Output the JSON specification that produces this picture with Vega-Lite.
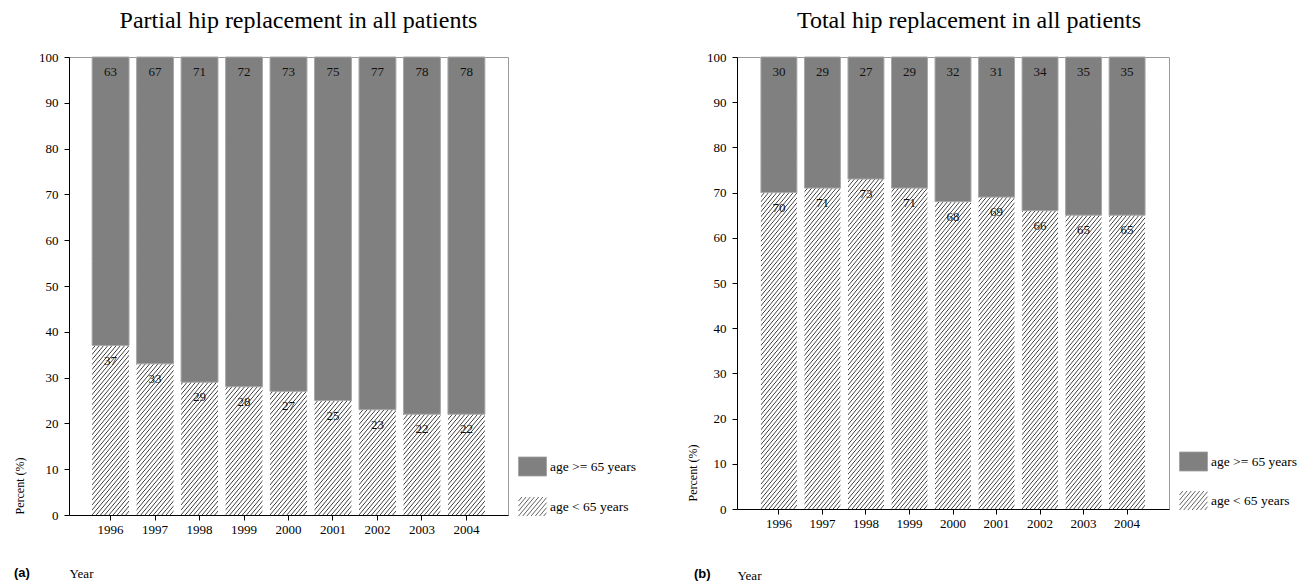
{
"$schema": "https://vega.github.io/schema/vega-lite/v6.json",
"background": "white",
"padding": {"left": 12, "top": 8, "right": 0, "bottom": 0},
"spacing": 47,
"resolve": {"scale": {"x": "independent", "y": "independent", "fill": "independent", "shape": "independent", "stroke": "independent"}, "legend": {"fill": "independent", "shape": "independent", "stroke": "independent"}},
"hconcat": [
{
"width": 439, "height": 458,
"title": {"text": "Partial hip replacement in all patients", "dx": 10},
"data": {"values": [
{"year": "1996", "group": "age >= 65 years", "value": 63}, {"year": "1996", "group": "age < 65 years", "value": 37},
{"year": "1997", "group": "age >= 65 years", "value": 67}, {"year": "1997", "group": "age < 65 years", "value": 33},
{"year": "1998", "group": "age >= 65 years", "value": 71}, {"year": "1998", "group": "age < 65 years", "value": 29},
{"year": "1999", "group": "age >= 65 years", "value": 72}, {"year": "1999", "group": "age < 65 years", "value": 28},
{"year": "2000", "group": "age >= 65 years", "value": 73}, {"year": "2000", "group": "age < 65 years", "value": 27},
{"year": "2001", "group": "age >= 65 years", "value": 75}, {"year": "2001", "group": "age < 65 years", "value": 25},
{"year": "2002", "group": "age >= 65 years", "value": 77}, {"year": "2002", "group": "age < 65 years", "value": 23},
{"year": "2003", "group": "age >= 65 years", "value": 78}, {"year": "2003", "group": "age < 65 years", "value": 22},
{"year": "2004", "group": "age >= 65 years", "value": 78}, {"year": "2004", "group": "age < 65 years", "value": 22}
]},
"encoding": {"x": {"field": "year", "type": "ordinal", "scale": {"paddingInner": 0.17, "paddingOuter": 0.52}, "axis": {"title": "Year", "labelAngle": 0, "labelPadding": 3, "titleX": 0, "titleY": 58, "titleAlign": "left", "titleBaseline": "middle", "titleAnchor": null}}},
"layer": [
{"transform": [{"filter": "datum.group === 'age < 65 years'"}], "mark": {"type": "bar"},
 "encoding": {"y": {"datum": 0, "type": "quantitative", "scale": {"domain": [0, 100], "nice": false}, "axis": {"title": "Percent (%)", "values": [0,10,20,30,40,50,60,70,80,90,100], "labelPadding": 6, "titleAngle": -90, "titleX": -50, "titleY": 457, "titleAlign": "left", "titleBaseline": "middle", "titleFontSize": 12, "titleAnchor": null}}, "y2": {"datum": 100}}},
{"mark": {"type": "bar", "fill": "#808080", "stroke": "#a8a8a8", "strokeWidth": 1},
 "encoding": {"y": {"field": "value", "type": "quantitative", "stack": "zero"},
  "detail": {"field": "group"},
  "order": {"field": "group", "sort": "ascending"},
  "opacity": {"condition": {"test": "datum.group === 'age < 65 years'", "value": 0}, "value": 1}}},
{"transform": [{"filter": "datum.group === 'age >= 65 years'"}], "mark": {"type": "text", "baseline": "middle", "dy": 15, "fontSize": 13, "color": "#111"},
 "encoding": {"y": {"datum": 100, "type": "quantitative"}, "text": {"field": "value"}}},
{"transform": [{"filter": "datum.group === 'age < 65 years'"}], "mark": {"type": "text", "baseline": "middle", "dy": 15, "fontSize": 13, "color": "#111"},
 "encoding": {"y": {"field": "value", "type": "quantitative", "stack": null}, "text": {"field": "value"}}},
{"transform": [{"filter": "false"}], "mark": {"type": "point", "filled": true, "opacity": 1},
 "encoding": {
  "fill": {"field": "group", "type": "nominal", "scale": {"domain": ["age >= 65 years", "age < 65 years"], "range": ["#808080", "#ffffff"]}, "legend": {"title": null, "orient": "none", "legendX": 449, "legendY": 395, "padding": 0, "symbolSize": 784, "symbolStrokeWidth": 0.8, "symbolOpacity": 1, "labelOffset": 3, "rowPadding": 14}},
  "stroke": {"field": "group", "type": "nominal", "scale": {"domain": ["age >= 65 years", "age < 65 years"], "range": ["#a0a0a0", "#3a3a3a"]}, "legend": {"title": null, "orient": "none", "legendX": 449, "legendY": 395, "padding": 0, "symbolSize": 784, "symbolStrokeWidth": 0.8, "symbolOpacity": 1, "labelOffset": 3, "rowPadding": 14}},
  "shape": {"field": "group", "type": "nominal", "scale": {"domain": ["age >= 65 years", "age < 65 years"], "range": ["M-1,-0.68H1V0.68H-1Z", "M-1,-0.391L-0.757,-0.68M-1,-0.034L-0.457,-0.68M-1,0.323L-0.157,-0.68M-1,0.68L0.143,-0.68M-0.7,0.68L0.443,-0.68M-0.4,0.68L0.743,-0.68M-0.1,0.68L1,-0.629M0.2,0.68L1,-0.272M0.5,0.68L1,0.085M0.8,0.68L1,0.442"]}, "legend": {"title": null, "orient": "none", "legendX": 449, "legendY": 395, "padding": 0, "symbolSize": 784, "symbolStrokeWidth": 0.8, "symbolOpacity": 1, "labelOffset": 3, "rowPadding": 14}}}},
{"data": {"values": [{"tag": "(a)"}]}, "mark": {"type": "text", "font": "Liberation Sans", "fontWeight": "bold", "fontSize": 13, "align": "left", "baseline": "middle", "color": "#000"},
 "encoding": {"x": {"value": -55}, "y": {"value": 516}, "text": {"field": "tag"}}}
]
},
{
"width": 432, "height": 452,
"title": {"text": "Total hip replacement in all patients", "dx": 16},
"data": {"values": [
{"year": "1996", "group": "age >= 65 years", "value": 30}, {"year": "1996", "group": "age < 65 years", "value": 70},
{"year": "1997", "group": "age >= 65 years", "value": 29}, {"year": "1997", "group": "age < 65 years", "value": 71},
{"year": "1998", "group": "age >= 65 years", "value": 27}, {"year": "1998", "group": "age < 65 years", "value": 73},
{"year": "1999", "group": "age >= 65 years", "value": 29}, {"year": "1999", "group": "age < 65 years", "value": 71},
{"year": "2000", "group": "age >= 65 years", "value": 32}, {"year": "2000", "group": "age < 65 years", "value": 68},
{"year": "2001", "group": "age >= 65 years", "value": 31}, {"year": "2001", "group": "age < 65 years", "value": 69},
{"year": "2002", "group": "age >= 65 years", "value": 34}, {"year": "2002", "group": "age < 65 years", "value": 66},
{"year": "2003", "group": "age >= 65 years", "value": 35}, {"year": "2003", "group": "age < 65 years", "value": 65},
{"year": "2004", "group": "age >= 65 years", "value": 35}, {"year": "2004", "group": "age < 65 years", "value": 65}
]},
"encoding": {"x": {"field": "year", "type": "ordinal", "scale": {"paddingInner": 0.174, "paddingOuter": 0.55}, "axis": {"title": "Year", "labelAngle": 0, "labelPadding": 3, "titleX": 0, "titleY": 66, "titleAlign": "left", "titleBaseline": "middle", "titleAnchor": null}}},
"layer": [
{"transform": [{"filter": "datum.group === 'age < 65 years'"}], "mark": {"type": "bar"},
 "encoding": {"y": {"datum": 0, "type": "quantitative", "scale": {"domain": [0, 100], "nice": false}, "axis": {"title": "Percent (%)", "values": [0,10,20,30,40,50,60,70,80,90,100], "labelPadding": 6, "titleAngle": -90, "titleX": -45, "titleY": 444, "titleAlign": "left", "titleBaseline": "middle", "titleFontSize": 12, "titleAnchor": null}}, "y2": {"datum": 100}}},
{"mark": {"type": "bar", "fill": "#808080", "stroke": "#a8a8a8", "strokeWidth": 1},
 "encoding": {"y": {"field": "value", "type": "quantitative", "stack": "zero"},
  "detail": {"field": "group"},
  "order": {"field": "group", "sort": "ascending"},
  "opacity": {"condition": {"test": "datum.group === 'age < 65 years'", "value": 0}, "value": 1}}},
{"transform": [{"filter": "datum.group === 'age >= 65 years'"}], "mark": {"type": "text", "baseline": "middle", "dy": 15, "fontSize": 13, "color": "#111"},
 "encoding": {"y": {"datum": 100, "type": "quantitative"}, "text": {"field": "value"}}},
{"transform": [{"filter": "datum.group === 'age < 65 years'"}], "mark": {"type": "text", "baseline": "middle", "dy": 15, "fontSize": 13, "color": "#111"},
 "encoding": {"y": {"field": "value", "type": "quantitative", "stack": null}, "text": {"field": "value"}}},
{"transform": [{"filter": "false"}], "mark": {"type": "point", "filled": true, "opacity": 1},
 "encoding": {
  "fill": {"field": "group", "type": "nominal", "scale": {"domain": ["age >= 65 years", "age < 65 years"], "range": ["#808080", "#ffffff"]}, "legend": {"title": null, "orient": "none", "legendX": 442, "legendY": 390, "padding": 0, "symbolSize": 784, "symbolStrokeWidth": 0.8, "symbolOpacity": 1, "labelOffset": 3, "rowPadding": 13}},
  "stroke": {"field": "group", "type": "nominal", "scale": {"domain": ["age >= 65 years", "age < 65 years"], "range": ["#a0a0a0", "#3a3a3a"]}, "legend": {"title": null, "orient": "none", "legendX": 442, "legendY": 390, "padding": 0, "symbolSize": 784, "symbolStrokeWidth": 0.8, "symbolOpacity": 1, "labelOffset": 3, "rowPadding": 13}},
  "shape": {"field": "group", "type": "nominal", "scale": {"domain": ["age >= 65 years", "age < 65 years"], "range": ["M-1,-0.68H1V0.68H-1Z", "M-1,-0.391L-0.757,-0.68M-1,-0.034L-0.457,-0.68M-1,0.323L-0.157,-0.68M-1,0.68L0.143,-0.68M-0.7,0.68L0.443,-0.68M-0.4,0.68L0.743,-0.68M-0.1,0.68L1,-0.629M0.2,0.68L1,-0.272M0.5,0.68L1,0.085M0.8,0.68L1,0.442"]}, "legend": {"title": null, "orient": "none", "legendX": 442, "legendY": 390, "padding": 0, "symbolSize": 784, "symbolStrokeWidth": 0.8, "symbolOpacity": 1, "labelOffset": 3, "rowPadding": 13}}}},
{"data": {"values": [{"tag": "(b)"}]}, "mark": {"type": "text", "font": "Liberation Sans", "fontWeight": "bold", "fontSize": 13, "align": "left", "baseline": "middle", "color": "#000"},
 "encoding": {"x": {"value": -43}, "y": {"value": 517}, "text": {"field": "tag"}}}
]
}
],
"config": {
"font": "Liberation Serif",
"view": {"stroke": "#9a9a9a"},
"bar": {"fill": {"gradient": "linear", "x1": 0, "y1": 0, "x2": 0.1044, "y2": 1.086, "stops": [
{"offset":0.00,"color":"#fff"},{"offset":0.0022,"color":"#333"},{"offset":0.0044,"color":"#fff"},
{"offset":0.01,"color":"#fff"},{"offset":0.0122,"color":"#333"},{"offset":0.0144,"color":"#fff"},
{"offset":0.02,"color":"#fff"},{"offset":0.0222,"color":"#333"},{"offset":0.0244,"color":"#fff"},
{"offset":0.03,"color":"#fff"},{"offset":0.0322,"color":"#333"},{"offset":0.0344,"color":"#fff"},
{"offset":0.04,"color":"#fff"},{"offset":0.0422,"color":"#333"},{"offset":0.0444,"color":"#fff"},
{"offset":0.05,"color":"#fff"},{"offset":0.0522,"color":"#333"},{"offset":0.0544,"color":"#fff"},
{"offset":0.06,"color":"#fff"},{"offset":0.0622,"color":"#333"},{"offset":0.0644,"color":"#fff"},
{"offset":0.07,"color":"#fff"},{"offset":0.0722,"color":"#333"},{"offset":0.0744,"color":"#fff"},
{"offset":0.08,"color":"#fff"},{"offset":0.0822,"color":"#333"},{"offset":0.0844,"color":"#fff"},
{"offset":0.09,"color":"#fff"},{"offset":0.0922,"color":"#333"},{"offset":0.0944,"color":"#fff"},
{"offset":0.10,"color":"#fff"},{"offset":0.1022,"color":"#333"},{"offset":0.1044,"color":"#fff"},
{"offset":0.11,"color":"#fff"},{"offset":0.1122,"color":"#333"},{"offset":0.1144,"color":"#fff"},
{"offset":0.12,"color":"#fff"},{"offset":0.1222,"color":"#333"},{"offset":0.1244,"color":"#fff"},
{"offset":0.13,"color":"#fff"},{"offset":0.1322,"color":"#333"},{"offset":0.1344,"color":"#fff"},
{"offset":0.14,"color":"#fff"},{"offset":0.1422,"color":"#333"},{"offset":0.1444,"color":"#fff"},
{"offset":0.15,"color":"#fff"},{"offset":0.1522,"color":"#333"},{"offset":0.1544,"color":"#fff"},
{"offset":0.16,"color":"#fff"},{"offset":0.1622,"color":"#333"},{"offset":0.1644,"color":"#fff"},
{"offset":0.17,"color":"#fff"},{"offset":0.1722,"color":"#333"},{"offset":0.1744,"color":"#fff"},
{"offset":0.18,"color":"#fff"},{"offset":0.1822,"color":"#333"},{"offset":0.1844,"color":"#fff"},
{"offset":0.19,"color":"#fff"},{"offset":0.1922,"color":"#333"},{"offset":0.1944,"color":"#fff"},
{"offset":0.20,"color":"#fff"},{"offset":0.2022,"color":"#333"},{"offset":0.2044,"color":"#fff"},
{"offset":0.21,"color":"#fff"},{"offset":0.2122,"color":"#333"},{"offset":0.2144,"color":"#fff"},
{"offset":0.22,"color":"#fff"},{"offset":0.2222,"color":"#333"},{"offset":0.2244,"color":"#fff"},
{"offset":0.23,"color":"#fff"},{"offset":0.2322,"color":"#333"},{"offset":0.2344,"color":"#fff"},
{"offset":0.24,"color":"#fff"},{"offset":0.2422,"color":"#333"},{"offset":0.2444,"color":"#fff"},
{"offset":0.25,"color":"#fff"},{"offset":0.2522,"color":"#333"},{"offset":0.2544,"color":"#fff"},
{"offset":0.26,"color":"#fff"},{"offset":0.2622,"color":"#333"},{"offset":0.2644,"color":"#fff"},
{"offset":0.27,"color":"#fff"},{"offset":0.2722,"color":"#333"},{"offset":0.2744,"color":"#fff"},
{"offset":0.28,"color":"#fff"},{"offset":0.2822,"color":"#333"},{"offset":0.2844,"color":"#fff"},
{"offset":0.29,"color":"#fff"},{"offset":0.2922,"color":"#333"},{"offset":0.2944,"color":"#fff"},
{"offset":0.30,"color":"#fff"},{"offset":0.3022,"color":"#333"},{"offset":0.3044,"color":"#fff"},
{"offset":0.31,"color":"#fff"},{"offset":0.3122,"color":"#333"},{"offset":0.3144,"color":"#fff"},
{"offset":0.32,"color":"#fff"},{"offset":0.3222,"color":"#333"},{"offset":0.3244,"color":"#fff"},
{"offset":0.33,"color":"#fff"},{"offset":0.3322,"color":"#333"},{"offset":0.3344,"color":"#fff"},
{"offset":0.34,"color":"#fff"},{"offset":0.3422,"color":"#333"},{"offset":0.3444,"color":"#fff"},
{"offset":0.35,"color":"#fff"},{"offset":0.3522,"color":"#333"},{"offset":0.3544,"color":"#fff"},
{"offset":0.36,"color":"#fff"},{"offset":0.3622,"color":"#333"},{"offset":0.3644,"color":"#fff"},
{"offset":0.37,"color":"#fff"},{"offset":0.3722,"color":"#333"},{"offset":0.3744,"color":"#fff"},
{"offset":0.38,"color":"#fff"},{"offset":0.3822,"color":"#333"},{"offset":0.3844,"color":"#fff"},
{"offset":0.39,"color":"#fff"},{"offset":0.3922,"color":"#333"},{"offset":0.3944,"color":"#fff"},
{"offset":0.40,"color":"#fff"},{"offset":0.4022,"color":"#333"},{"offset":0.4044,"color":"#fff"},
{"offset":0.41,"color":"#fff"},{"offset":0.4122,"color":"#333"},{"offset":0.4144,"color":"#fff"},
{"offset":0.42,"color":"#fff"},{"offset":0.4222,"color":"#333"},{"offset":0.4244,"color":"#fff"},
{"offset":0.43,"color":"#fff"},{"offset":0.4322,"color":"#333"},{"offset":0.4344,"color":"#fff"},
{"offset":0.44,"color":"#fff"},{"offset":0.4422,"color":"#333"},{"offset":0.4444,"color":"#fff"},
{"offset":0.45,"color":"#fff"},{"offset":0.4522,"color":"#333"},{"offset":0.4544,"color":"#fff"},
{"offset":0.46,"color":"#fff"},{"offset":0.4622,"color":"#333"},{"offset":0.4644,"color":"#fff"},
{"offset":0.47,"color":"#fff"},{"offset":0.4722,"color":"#333"},{"offset":0.4744,"color":"#fff"},
{"offset":0.48,"color":"#fff"},{"offset":0.4822,"color":"#333"},{"offset":0.4844,"color":"#fff"},
{"offset":0.49,"color":"#fff"},{"offset":0.4922,"color":"#333"},{"offset":0.4944,"color":"#fff"},
{"offset":0.50,"color":"#fff"},{"offset":0.5022,"color":"#333"},{"offset":0.5044,"color":"#fff"},
{"offset":0.51,"color":"#fff"},{"offset":0.5122,"color":"#333"},{"offset":0.5144,"color":"#fff"},
{"offset":0.52,"color":"#fff"},{"offset":0.5222,"color":"#333"},{"offset":0.5244,"color":"#fff"},
{"offset":0.53,"color":"#fff"},{"offset":0.5322,"color":"#333"},{"offset":0.5344,"color":"#fff"},
{"offset":0.54,"color":"#fff"},{"offset":0.5422,"color":"#333"},{"offset":0.5444,"color":"#fff"},
{"offset":0.55,"color":"#fff"},{"offset":0.5522,"color":"#333"},{"offset":0.5544,"color":"#fff"},
{"offset":0.56,"color":"#fff"},{"offset":0.5622,"color":"#333"},{"offset":0.5644,"color":"#fff"},
{"offset":0.57,"color":"#fff"},{"offset":0.5722,"color":"#333"},{"offset":0.5744,"color":"#fff"},
{"offset":0.58,"color":"#fff"},{"offset":0.5822,"color":"#333"},{"offset":0.5844,"color":"#fff"},
{"offset":0.59,"color":"#fff"},{"offset":0.5922,"color":"#333"},{"offset":0.5944,"color":"#fff"},
{"offset":0.60,"color":"#fff"},{"offset":0.6022,"color":"#333"},{"offset":0.6044,"color":"#fff"},
{"offset":0.61,"color":"#fff"},{"offset":0.6122,"color":"#333"},{"offset":0.6144,"color":"#fff"},
{"offset":0.62,"color":"#fff"},{"offset":0.6222,"color":"#333"},{"offset":0.6244,"color":"#fff"},
{"offset":0.63,"color":"#fff"},{"offset":0.6322,"color":"#333"},{"offset":0.6344,"color":"#fff"},
{"offset":0.64,"color":"#fff"},{"offset":0.6422,"color":"#333"},{"offset":0.6444,"color":"#fff"},
{"offset":0.65,"color":"#fff"},{"offset":0.6522,"color":"#333"},{"offset":0.6544,"color":"#fff"},
{"offset":0.66,"color":"#fff"},{"offset":0.6622,"color":"#333"},{"offset":0.6644,"color":"#fff"},
{"offset":0.67,"color":"#fff"},{"offset":0.6722,"color":"#333"},{"offset":0.6744,"color":"#fff"},
{"offset":0.68,"color":"#fff"},{"offset":0.6822,"color":"#333"},{"offset":0.6844,"color":"#fff"},
{"offset":0.69,"color":"#fff"},{"offset":0.6922,"color":"#333"},{"offset":0.6944,"color":"#fff"},
{"offset":0.70,"color":"#fff"},{"offset":0.7022,"color":"#333"},{"offset":0.7044,"color":"#fff"},
{"offset":0.71,"color":"#fff"},{"offset":0.7122,"color":"#333"},{"offset":0.7144,"color":"#fff"},
{"offset":0.72,"color":"#fff"},{"offset":0.7222,"color":"#333"},{"offset":0.7244,"color":"#fff"},
{"offset":0.73,"color":"#fff"},{"offset":0.7322,"color":"#333"},{"offset":0.7344,"color":"#fff"},
{"offset":0.74,"color":"#fff"},{"offset":0.7422,"color":"#333"},{"offset":0.7444,"color":"#fff"},
{"offset":0.75,"color":"#fff"},{"offset":0.7522,"color":"#333"},{"offset":0.7544,"color":"#fff"},
{"offset":0.76,"color":"#fff"},{"offset":0.7622,"color":"#333"},{"offset":0.7644,"color":"#fff"},
{"offset":0.77,"color":"#fff"},{"offset":0.7722,"color":"#333"},{"offset":0.7744,"color":"#fff"},
{"offset":0.78,"color":"#fff"},{"offset":0.7822,"color":"#333"},{"offset":0.7844,"color":"#fff"},
{"offset":0.79,"color":"#fff"},{"offset":0.7922,"color":"#333"},{"offset":0.7944,"color":"#fff"},
{"offset":0.80,"color":"#fff"},{"offset":0.8022,"color":"#333"},{"offset":0.8044,"color":"#fff"},
{"offset":0.81,"color":"#fff"},{"offset":0.8122,"color":"#333"},{"offset":0.8144,"color":"#fff"},
{"offset":0.82,"color":"#fff"},{"offset":0.8222,"color":"#333"},{"offset":0.8244,"color":"#fff"},
{"offset":0.83,"color":"#fff"},{"offset":0.8322,"color":"#333"},{"offset":0.8344,"color":"#fff"},
{"offset":0.84,"color":"#fff"},{"offset":0.8422,"color":"#333"},{"offset":0.8444,"color":"#fff"},
{"offset":0.85,"color":"#fff"},{"offset":0.8522,"color":"#333"},{"offset":0.8544,"color":"#fff"},
{"offset":0.86,"color":"#fff"},{"offset":0.8622,"color":"#333"},{"offset":0.8644,"color":"#fff"},
{"offset":0.87,"color":"#fff"},{"offset":0.8722,"color":"#333"},{"offset":0.8744,"color":"#fff"},
{"offset":0.88,"color":"#fff"},{"offset":0.8822,"color":"#333"},{"offset":0.8844,"color":"#fff"},
{"offset":0.89,"color":"#fff"},{"offset":0.8922,"color":"#333"},{"offset":0.8944,"color":"#fff"},
{"offset":0.90,"color":"#fff"},{"offset":0.9022,"color":"#333"},{"offset":0.9044,"color":"#fff"},
{"offset":0.91,"color":"#fff"},{"offset":0.9122,"color":"#333"},{"offset":0.9144,"color":"#fff"},
{"offset":0.92,"color":"#fff"},{"offset":0.9222,"color":"#333"},{"offset":0.9244,"color":"#fff"},
{"offset":0.93,"color":"#fff"},{"offset":0.9322,"color":"#333"},{"offset":0.9344,"color":"#fff"},
{"offset":0.94,"color":"#fff"},{"offset":0.9422,"color":"#333"},{"offset":0.9444,"color":"#fff"},
{"offset":0.95,"color":"#fff"},{"offset":0.9522,"color":"#333"},{"offset":0.9544,"color":"#fff"},
{"offset":0.96,"color":"#fff"},{"offset":0.9622,"color":"#333"},{"offset":0.9644,"color":"#fff"},
{"offset":0.97,"color":"#fff"},{"offset":0.9722,"color":"#333"},{"offset":0.9744,"color":"#fff"},
{"offset":0.98,"color":"#fff"},{"offset":0.9822,"color":"#333"},{"offset":0.9844,"color":"#fff"},
{"offset":0.99,"color":"#fff"},{"offset":0.9922,"color":"#333"},{"offset":0.9944,"color":"#fff"}
]}},
"text": {"font": "Liberation Serif", "fontSize": 13},
"axis": {"domainColor": "#000", "tickColor": "#000", "tickSize": 5, "labelColor": "#000", "labelFont": "Liberation Serif", "labelFontSize": 13, "titleFont": "Liberation Serif", "titleFontSize": 13, "titleFontWeight": "normal", "titleColor": "#000", "grid": false},
"legend": {"labelFont": "Liberation Serif", "labelFontSize": 13.5, "labelColor": "#000"},
"title": {"font": "Liberation Serif", "fontSize": 24, "fontWeight": "normal", "color": "#000", "offset": 18}
}
}
